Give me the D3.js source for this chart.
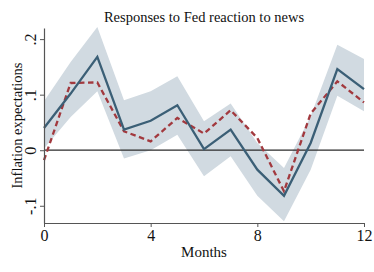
<!DOCTYPE html>
<html>
<head>
<meta charset="utf-8">
<script src="https://cdn.jsdelivr.net/npm/d3@7"></script>
<style>
  body { margin: 0; background: #fff; }
  svg { display: block; }
</style>
</head>
<body>
<div id="chart"></div>
<script>
// --- data
const months = [0, 1, 2, 3, 4, 5, 6, 7, 8, 9, 10, 11, 12];
const responseSolid = [0.040, 0.102, 0.168, 0.037, 0.053, 0.081, 0.002, 0.037, -0.035, -0.082, 0.013, 0.146, 0.110];
const responseDashed = [-0.018, 0.121, 0.122, 0.034, 0.016, 0.058, 0.030, 0.072, 0.022, -0.074, 0.066, 0.124, 0.086];
const bandUpper = [0.088, 0.159, 0.222, 0.090, 0.106, 0.133, 0.052, 0.084, 0.013, -0.032, 0.061, 0.190, 0.164];
const bandLower = [0.003, 0.060, 0.106, -0.015, 0.000, 0.028, -0.047, -0.011, -0.082, -0.128, -0.035, 0.098, 0.070];
const xTicks = [0, 4, 8, 12];
const yTicks = [-0.1, 0, 0.1, 0.2];
const yTickLabels = ['-.1', '0', '.1', '.2'];

// --- setup
const width = 374;
const height = 272;
const margin = { top: 28, right: 10, bottom: 49, left: 44 };
const font = '"Liberation Serif", "Times New Roman", serif';

const x = d3.scaleLinear()
  .domain([0, 12])
  .range([margin.left, width - margin.right]);

const y = d3.scaleLinear()
  .domain([-0.131, 0.22])
  .range([height - margin.bottom, margin.top]);

const svg = d3.select('#chart')
  .append('svg')
  .attr('width', width)
  .attr('height', height)
  .attr('viewBox', [0, 0, width, height]);

const rows = months.map((m, i) => ({
  m,
  solid: responseSolid[i],
  dashed: responseDashed[i],
  hi: bandUpper[i],
  lo: bandLower[i]
}));

// --- confidence band
const area = d3.area()
  .x(d => x(d.m))
  .y0(d => y(d.lo))
  .y1(d => y(d.hi));

svg.append('path')
  .datum(rows)
  .attr('d', area)
  .attr('fill', '#d1dae1');

// --- zero line
svg.append('line')
  .attr('x1', x(0))
  .attr('x2', x(12))
  .attr('y1', y(0))
  .attr('y2', y(0))
  .attr('stroke', '#2b2b2b')
  .attr('stroke-width', 1.3);

// --- lines
const line = key => d3.line()
  .x(d => x(d.m))
  .y(d => y(d[key]));

svg.append('path')
  .datum(rows)
  .attr('d', line('dashed'))
  .attr('fill', 'none')
  .attr('stroke', '#a2393e')
  .attr('stroke-width', 2.3)
  .attr('stroke-dasharray', '5.5,3.5');

svg.append('path')
  .datum(rows)
  .attr('d', line('solid'))
  .attr('fill', 'none')
  .attr('stroke', '#3b5f76')
  .attr('stroke-width', 2.3)
  .attr('stroke-linejoin', 'miter');

// --- axes
const xAxis = svg.append('g')
  .attr('transform', `translate(0,${height - margin.bottom})`)
  .call(d3.axisBottom(x).tickValues(xTicks).tickSize(4).tickPadding(3).tickSizeOuter(0));

const yAxis = svg.append('g')
  .attr('transform', `translate(${margin.left},0)`)
  .call(d3.axisLeft(y).tickValues(yTicks).tickFormat((d, i) => yTickLabels[i]).tickSize(4).tickSizeOuter(0));

[xAxis, yAxis].forEach(g => {
  g.select('.domain').attr('stroke', '#555').attr('stroke-width', 1.2);
  g.selectAll('.tick line').attr('stroke', '#555');
  g.selectAll('text')
    .attr('fill', '#111')
    .attr('font-family', font)
    .attr('font-size', 16);
});

// rotated y tick labels
yAxis.selectAll('.tick text')
  .attr('x', null)
  .attr('dy', null)
  .attr('text-anchor', 'middle')
  .attr('transform', 'translate(-8,0) rotate(-90)');

// --- titles
svg.append('text')
  .attr('x', (x(0) + x(12)) / 2)
  .attr('y', 22)
  .attr('text-anchor', 'middle')
  .attr('font-family', font)
  .attr('font-size', 14.5)
  .attr('fill', '#111')
  .text('Responses to Fed reaction to news');

svg.append('text')
  .attr('x', (x(0) + x(12)) / 2)
  .attr('y', 256.5)
  .attr('text-anchor', 'middle')
  .attr('font-family', font)
  .attr('font-size', 15)
  .attr('fill', '#111')
  .text('Months');

svg.append('text')
  .attr('transform', `translate(22,${(y.range()[0] + y.range()[1]) / 2}) rotate(-90)`)
  .attr('text-anchor', 'middle')
  .attr('font-family', font)
  .attr('font-size', 14.5)
  .attr('fill', '#111')
  .text('Inflation expectations');
</script>
</body>
</html>
